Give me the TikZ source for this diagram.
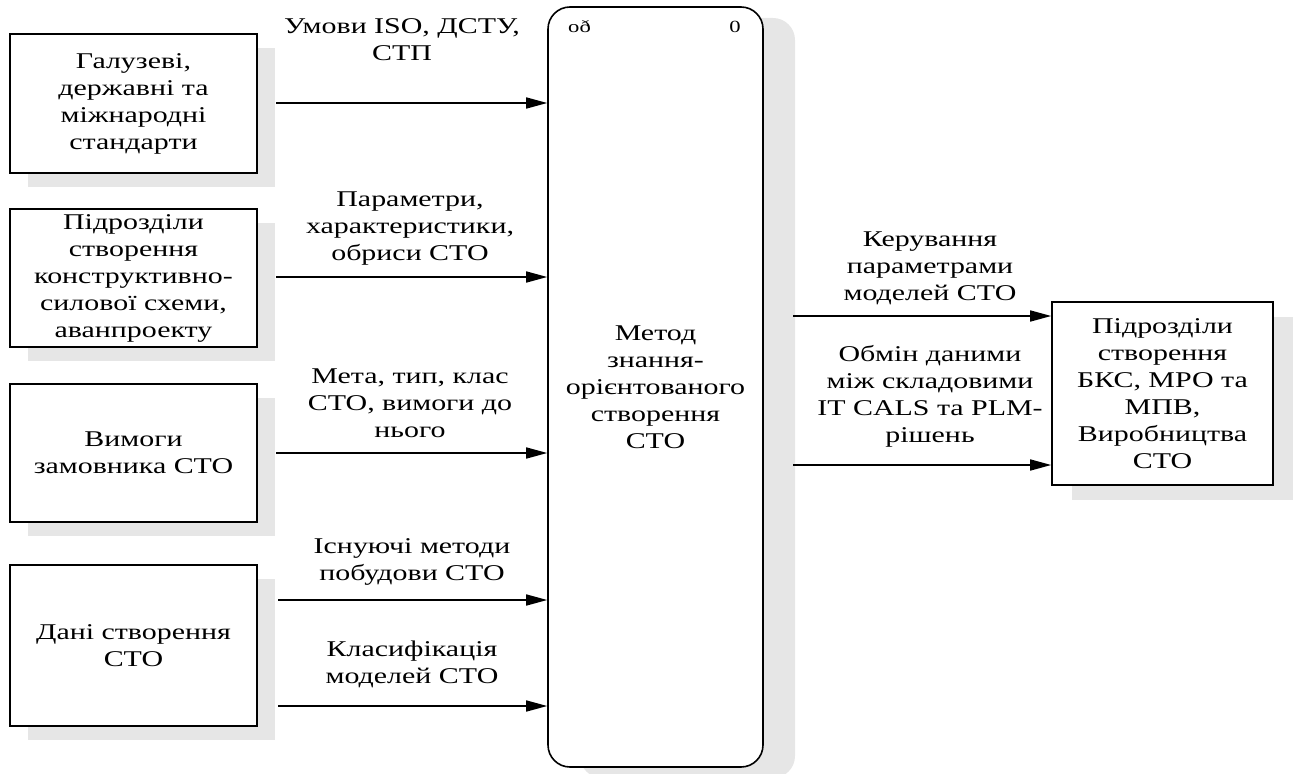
\documentclass[tikz,border=0pt]{standalone}
\usepackage{fontspec}
\setmainfont{Liberation Serif}[FakeStretch=1.33]
\usetikzlibrary{arrows.meta,shadows}

\definecolor{shade}{HTML}{E6E6E6}

\tikzset{
  txt/.style={align=center, font=\fontsize{22.5}{27}\selectfont, inner sep=0pt},
  srcbox/.style={draw, line width=1.6pt, fill=white, minimum width=247pt,
    drop shadow={shadow xshift=18pt, shadow yshift=-14pt, fill=shade, opacity=1}},
  procbox/.style={draw, line width=1.6pt, fill=white, rounded corners=22pt,
    minimum width=215pt, minimum height=760pt,
    drop shadow={shadow xshift=32pt, shadow yshift=-11pt, fill=shade, opacity=1}},
  dstbox/.style={draw, line width=1.6pt, fill=white, minimum width=221pt, minimum height=183pt,
    drop shadow={shadow xshift=20pt, shadow yshift=-15pt, fill=shade, opacity=1}},
  arr/.style={line width=1.6pt, -{Triangle[length=21pt,width=11pt]}},
  small/.style={font=\fontsize{17}{20}\selectfont, inner sep=0pt}
}

\begin{document}
\begin{tikzpicture}[x=1pt, y=-1pt]
\useasboundingbox (0,0) rectangle (1297,773);

% input sources
\node[srcbox, minimum height=139pt] (b1) at (133.5,103.5) {};
\node[txt] at (b1) {Галузеві,\\державні та\\міжнародні\\стандарти};
\node[srcbox, minimum height=138pt] (b2) at (133.5,278) {};
\node[txt] at (b2) {Підрозділи\\створення\\конструктивно-\\силової схеми,\\аванпроекту};
\node[srcbox, minimum height=138pt] (b3) at (133.5,453) {};
\node[txt] at (b3) {Вимоги\\замовника СТО};
\node[srcbox, minimum height=161pt] (b4) at (133.5,645.5) {};
\node[txt] at (b4) {Дані створення\\СТО};

% central process block
\node[procbox] (m) at (655.5,387) {};
\node[txt] at (m) {Метод\\знання-\\орієнтованого\\створення\\СТО};
\node[small, anchor=base west] (m-id) at (568,33) {oð};
\node[small, anchor=base] (m-no) at (735,33) {0};

% output receiver
\node[dstbox] (rb) at (1162.5,393.5) {};
\node[txt] at (rb) {Підрозділи\\створення\\БКС, МРО та\\МПВ,\\Виробництва\\СТО};

% arrow tails
\coordinate (s1) at (276,103);
\coordinate (s2) at (276,277);
\coordinate (s3) at (276,453);
\coordinate (s4) at (278,600);
\coordinate (s5) at (278,706);
\coordinate (o1) at (793,316);
\coordinate (o2) at (793,465);

\draw[arr] (s1) -- (s1 -| m.west);
\draw[arr] (s2) -- (s2 -| m.west);
\draw[arr] (s3) -- (s3 -| m.west);
\draw[arr] (s4) -- (s4 -| m.west);
\draw[arr] (s5) -- (s5 -| m.west);
\draw[arr] (o1) -- (o1 -| rb.west);
\draw[arr] (o2) -- (o2 -| rb.west);

% arrow labels
\node[txt] (l1) at (402,40) {Умови ISO, ДСТУ,\\СТП};
\node[txt] (l2) at (410,229) {Параметри,\\характеристики,\\обриси СТО};
\node[txt] (l3) at (410,403) {Мета, тип, клас\\СТО, вимоги до\\нього};
\node[txt] (l4) at (412,562) {Існуючі методи\\побудови СТО};
\node[txt] (l5) at (412,664) {Класифікація\\моделей СТО};
\node[txt] (l6) at (930,268) {Керування\\параметрами\\моделей СТО};
\node[txt] (l7) at (930,396) {Обмін даними\\між складовими\\IT CALS та PLM-\\рішень};
\end{tikzpicture}
\end{document}
